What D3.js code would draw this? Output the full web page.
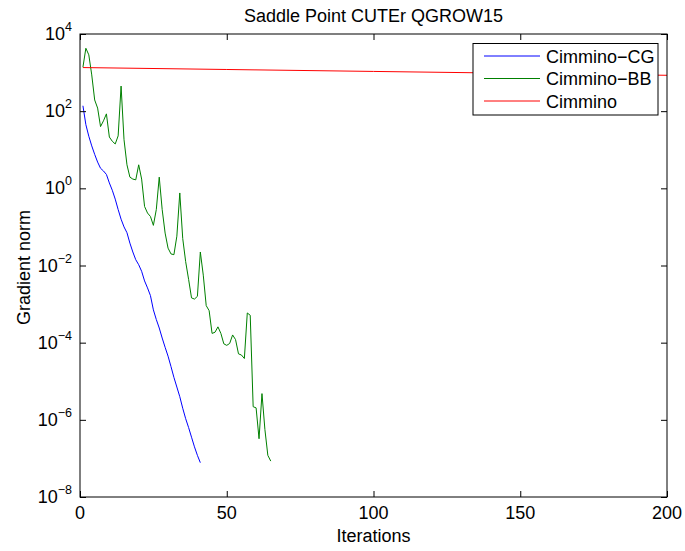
<style>body { margin: 0; } svg { display: block; }</style>
<script src="https://d3js.org/d3.v7.min.js"></script>

<svg id="main_canvas" width=685 height=551></svg>

<script>
    // chart values (log10 of gradient norm)
    const cgIter = d3.range(1, 42);
    const cgLog = [2.14, 1.65, 1.35, 1.10, 0.88, 0.68, 0.52, 0.45, 0.36, 0.14,
        -0.05, -0.28, -0.55, -0.80, -1.00, -1.15, -1.42, -1.65, -1.85, -1.98,
        -2.15, -2.40, -2.58, -2.78, -3.15, -3.40, -3.62, -3.88, -4.12, -4.35,
        -4.62, -4.90, -5.15, -5.40, -5.70, -5.97, -6.20, -6.45, -6.70, -6.92, -7.11];

    const bbIter = d3.range(1, 66);
    const bbLog = [3.14, 3.63, 3.46, 2.94, 2.29, 2.08, 1.60, 1.75, 1.93, 1.33,
        1.22, 1.15, 1.36, 2.65, 1.26, 0.61, 0.29, 0.24, 0.22, 0.61,
        0.24, -0.47, -0.64, -0.73, -0.96, -0.55, 0.29, -0.55, -1.16, -1.55,
        -1.70, -1.72, -1.24, -0.12, -1.30, -1.90, -2.36, -2.84, -2.87, -2.80,
        -1.65, -2.25, -3.04, -3.17, -3.76, -3.73, -3.59, -3.76, -4.03, -4.07,
        -4.02, -3.80, -3.92, -4.29, -4.32, -4.41, -3.23, -3.29, -5.66, -5.69,
        -6.49, -5.32, -6.25, -6.92, -7.07];

    const cimIter = [1, 50, 100, 150, 200];
    const cimLog = [3.13, 3.08, 3.03, 2.98, 2.93];

    const seriesNames = ["Cimmino\u2212CG", "Cimmino\u2212BB", "Cimmino"];
    const seriesColors = ["#0000ff", "#008000", "#ff0000"];

    const xTicks = [0, 50, 100, 150, 200];
    const yTickExps = [-8, -6, -4, -2, 0, 2, 4];

    const W = 685, H = 551;
    const margins = {left: 80, right: 18, top: 34, bottom: 54};
    const FONT = "Liberation Sans, Arial, Helvetica, sans-serif";

    const svg = d3.select("#main_canvas");
    svg.append("rect").attr("width", W).attr("height", H).attr("fill", "#fff");

    const x = d3.scaleLinear().domain([0, 200])
        .range([margins.left, W - margins.right]);
    const y = d3.scaleLog().domain([1e-8, 1e4])
        .range([H - margins.bottom, margins.top]);

    const series = [
        {it: cgIter, v: cgLog},
        {it: bbIter, v: bbLog},
        {it: cimIter, v: cimLog}
    ].map((s, i) => ({
        name: seriesNames[i],
        color: seriesColors[i],
        pts: s.it.map((d, j) => [d, Math.pow(10, s.v[j])])
    }));

    const line = d3.line().x(d => x(d[0])).y(d => y(d[1]));

    const plot = svg.append("g");
    plot.selectAll("path.series")
        .data(series)
        .join("path")
        .attr("class", "series")
        .attr("fill", "none")
        .attr("stroke", d => d.color)
        .attr("stroke-width", 1)
        .attr("d", d => line(d.pts));

    // axes, matlab style: inward ticks on all four sides
    const x0 = margins.left, x1 = W - margins.right;
    const y0 = H - margins.bottom, y1 = margins.top;
    const yTicks = yTickExps.map(e => Math.pow(10, e));

    svg.append("g").attr("transform", `translate(0,${y0})`)
        .call(d3.axisBottom(x).tickValues(xTicks).tickSizeInner(-6).tickSizeOuter(0).tickFormat(""));
    svg.append("g").attr("transform", `translate(0,${y1})`)
        .call(d3.axisTop(x).tickValues(xTicks).tickSizeInner(-6).tickSizeOuter(0).tickFormat(""));
    svg.append("g").attr("transform", `translate(${x0},0)`)
        .call(d3.axisLeft(y).tickValues(yTicks).tickSizeInner(-6).tickSizeOuter(0).tickFormat(""));
    svg.append("g").attr("transform", `translate(${x1},0)`)
        .call(d3.axisRight(y).tickValues(yTicks).tickSizeInner(-6).tickSizeOuter(0).tickFormat(""));
    svg.selectAll(".domain").remove();
    svg.selectAll(".tick line").attr("stroke", "#000");

    svg.append("rect")
        .attr("x", x0).attr("y", y1)
        .attr("width", x1 - x0).attr("height", y0 - y1)
        .attr("fill", "none").attr("stroke", "#000").attr("stroke-width", 1);

    // tick labels
    svg.append("g").selectAll("text")
        .data(xTicks)
        .join("text")
        .attr("x", d => x(d))
        .attr("y", 519)
        .attr("text-anchor", "middle")
        .style("font", `18px ${FONT}`)
        .text(d => d);

    const yl = svg.append("g").selectAll("text")
        .data(yTickExps)
        .join("text")
        .attr("x", 72)
        .attr("y", d => y(Math.pow(10, d)) + 6)
        .attr("text-anchor", "end")
        .style("font", `18px ${FONT}`);
    yl.append("tspan").text("10");
    yl.append("tspan")
        .attr("dy", -9)
        .style("font-size", "12.5px")
        .text(d => d < 0 ? "\u2212" + (-d) : d);

    // titles
    svg.append("text")
        .attr("x", (x0 + x1) / 2).attr("y", 22)
        .attr("text-anchor", "middle")
        .style("font", `18px ${FONT}`)
        .text("Saddle Point CUTEr QGROW15");
    svg.append("text")
        .attr("x", (x0 + x1) / 2).attr("y", 542)
        .attr("text-anchor", "middle")
        .style("font", `18px ${FONT}`)
        .text("Iterations");
    svg.append("text")
        .attr("transform", `translate(30,${(y0 + y1) / 2 + 2}) rotate(-90)`)
        .attr("text-anchor", "middle")
        .style("font", `18px ${FONT}`)
        .text("Gradient norm");

    // legend
    const legend = svg.append("g").attr("transform", "translate(473,43.5)");
    legend.append("rect")
        .attr("width", 185).attr("height", 71.5)
        .attr("fill", "#fff").attr("stroke", "#000").attr("stroke-width", 1);
    legend.selectAll("g")
        .data(series)
        .join("g")
        .attr("transform", (d, i) => `translate(0,${12.5 + i * 22.5})`)
        .call(g => {
            g.append("line")
                .attr("x1", 11).attr("x2", 67)
                .attr("stroke", d => d.color).attr("stroke-width", 1);
            g.append("text")
                .attr("x", 73).attr("y", 6.5)
                .style("font", `18px ${FONT}`)
                .text(d => d.name);
        });
</script>
